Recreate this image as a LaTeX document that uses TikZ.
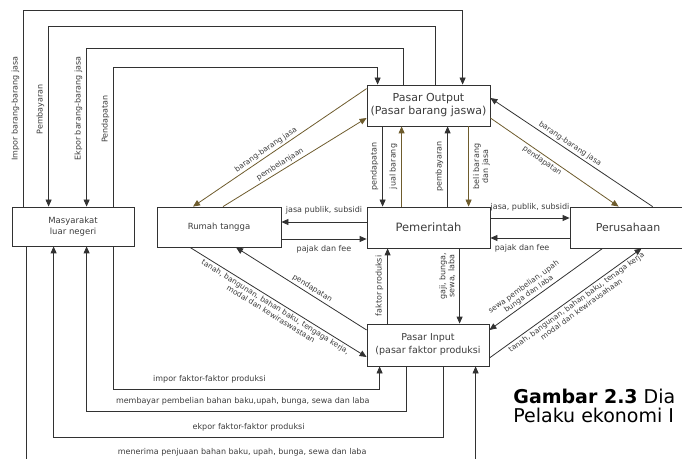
\documentclass[tikz,border=0pt]{standalone}
\usepackage{fontspec}
\setmainfont{DejaVu Sans}
\usetikzlibrary{arrows.meta}
\definecolor{linegray}{RGB}{50,50,50}
\definecolor{textgray}{RGB}{60,60,60}
\definecolor{olivebrown}{RGB}{110,92,45}
\begin{document}
\begin{tikzpicture}[x=1pt, y=1pt, line width=0.8pt, color=linegray,
            box/.style = {draw, inner sep=0pt, align=center, text=textgray},
            lbl/.style = {font=\fontsize{8}{9}\selectfont, text=textgray,
                inner sep=2pt, align=center},
            dlbl/.style = {lbl, font=\fontsize{7.5}{8.5}\selectfont, sloped},
            vlbl/.style = {lbl, rotate=90, inner sep=4pt},
            arr/.style = {-{Triangle[length=7pt,width=6pt]}},
            ]

        \useasboundingbox (0,0) rectangle (682,458);

        % Pelaku ekonomi
        \node[box, minimum width=122pt, minimum height=39pt,
            font=\fontsize{8.5}{11}\selectfont] (Mas) at (73,231.5) {Masyarakat\\luar negeri};
        \node[box, minimum width=124pt, minimum height=40pt,
            font=\fontsize{8.5}{11}\selectfont] (RT) at (219,231) {Rumah tangga};
        \node[box, minimum width=123pt, minimum height=41pt,
            font=\fontsize{11.5}{13}\selectfont] (Pem) at (428.5,230.5) {Pemerintah};
        \node[box, minimum width=116pt, minimum height=41pt,
            font=\fontsize{11}{13}\selectfont] (Per) at (628,230.5) {Perusahaan};

        % Pasar
        \node[box, minimum width=123pt, minimum height=41pt,
            font=\fontsize{11}{13}\selectfont] (PO) at (428.5,352.5) {Pasar Output\\(Pasar barang jaswa)};
        \node[box, minimum width=122pt, minimum height=42pt,
            font=\fontsize{9.5}{13}\selectfont] (PI) at (428,113) {Pasar Input\\(pasar faktor produksi};

        % Luar negeri - Pasar Output
        \draw[arr] ([xshift=12pt]Mas.north west) -- node[vlbl, anchor=south, pos=0.5] {Impor barang-barang jasa}
            ++(0,196) -| ([xshift=96pt]PO.north west);
        \draw[arr] ([xshift=69pt]PO.north west) -- ++(0,58)
            -| node[vlbl, anchor=south, pos=0.73] {Pembayaran} ([xshift=37pt]Mas.north west);
        \draw[arr] ([xshift=37pt]PO.north west) -- ++(0,36)
            -| node[vlbl, anchor=south, pos=0.69] {Ekpor barang-barang jasa} ([xshift=75pt]Mas.north west);
        \draw[arr] ([xshift=102pt]Mas.north west) -- node[vlbl, anchor=south, pos=0.63] {Pendapatan}
            ++(0,139) -| ([xshift=11pt]PO.north west);

        % Rumah tangga - Pasar Output
        \draw[arr, olivebrown] ([yshift=-4pt]PO.north west) -- node[dlbl, above, pos=0.56] {barang-barang jasa} ([xshift=-26pt]RT.north);
        \draw[arr, olivebrown] ([xshift=4pt]RT.north) -- node[dlbl, above, pos=0.42] {pembelanjaan} ([yshift=-12.5pt]PO.west);

        % Pasar Output - Pemerintah
        \draw[arr] ([xshift=16pt]PO.south west) -- node[vlbl, anchor=south] {pendapatan} ([xshift=16pt]Pem.north west);
        \draw[arr, olivebrown] ([xshift=35pt]Pem.north west) -- node[vlbl, anchor=south] {jual barang} ([xshift=35pt]PO.south west);
        \draw[arr] ([xshift=81pt]Pem.north west) -- node[vlbl, anchor=south] {pembayaran} ([xshift=81pt]PO.south west);
        \draw[arr, olivebrown] ([xshift=102pt]PO.south west) -- node[vlbl, anchor=north] {beli barang\\dan jasa} ([xshift=102pt]Pem.north west);

        % Pasar Output - Perusahaan
        \draw[arr] ([xshift=83pt]Per.north west) -- node[dlbl, above, pos=0.53] {barang-barang jasa} ([yshift=7.5pt]PO.east);
        \draw[arr, olivebrown] ([yshift=-12.5pt]PO.east) -- node[dlbl, below, pos=0.43] {pendapatan} ([xshift=49pt]Per.north west);

        % Pemerintah - Perusahaan
        \draw[arr] ([yshift=9.5pt]Pem.east) -- node[lbl, above=4pt] {jasa, publik, subsidi} ([yshift=9.5pt]Per.west);
        \draw[arr] ([yshift=-10.5pt]Per.west) -- node[lbl, below=4pt, pos=0.6] {pajak dan fee} ([yshift=-10.5pt]Pem.east);

        % Rumah tangga - Pemerintah
        \draw[arr] ([yshift=5.5pt]Pem.west) -- node[lbl, above=5pt] {jasa publik, subsidi} ([yshift=5pt]RT.east);
        \draw[arr] ([yshift=-12pt]RT.east) -- node[lbl, below=4pt] {pajak dan fee} ([yshift=-11.5pt]Pem.west);

        % Rumah tangga - Pasar Input
        \draw[arr] ([yshift=15pt]PI.west) -- node[dlbl, above, pos=0.44] {pendapatan} ([xshift=17pt]RT.south);
        \draw[arr] ([xshift=-29pt]RT.south) -- node[dlbl, below, pos=0.5]
            {tanah, bangunan, bahan baku, tengaga kerja,\\modal dan kewiraswastaan} ([yshift=-12pt]PI.west);

        % Pemerintah - Pasar Input
        \draw[arr] ([xshift=21pt]PI.north west) -- node[vlbl, anchor=south] {faktor produksi} ([xshift=21pt]Pem.south west);
        \draw[arr] ([xshift=93pt]Pem.south west) -- node[vlbl, anchor=south, pos=0.37] {gaji, bunga,\\sewa, laba} ([xshift=93pt]PI.north west);

        % Perusahaan - Pasar Input
        \draw[arr] ([xshift=33pt]Per.south west) -- node[dlbl, above, pos=0.62]
            {sewa pembelian, upah\\bunga dan laba} ([yshift=15pt]PI.east);
        \draw[arr] ([yshift=-13pt]PI.east) -- node[dlbl, below, pos=0.55]
            {tanah, bangunan, bahan baku, tenaga kerja\\modal dan kewirausahaan} ([xshift=72pt]Per.south west);

        % Luar negeri - Pasar Input
        \draw[arr] ([xshift=102pt]Mas.south west) -- ++(0,-143)
            -| node[lbl, above=4pt, pos=0.18] {impor faktor-faktor produksi} ([xshift=13pt]PI.south west);
        \draw[arr] ([xshift=40pt]PI.south west) -- ++(0,-45)
            -| node[lbl, above=4pt, pos=0.256] {membayar pembelian bahan baku,upah, bunga, sewa dan laba} ([xshift=75pt]Mas.south west);
        \draw[arr] ([xshift=77pt]PI.south west) -- ++(0,-71)
            -| node[lbl, above=4pt, pos=0.25] {ekpor faktor-faktor produksi} ([xshift=42pt]Mas.south west);
        \draw[arr] ([xshift=15pt]Mas.south west) -- ++(0,-216)
            -| node[lbl, above=4pt, pos=0.24] {menerima penjuaan bahan baku, upah, bunga, sewa dan laba} ([xshift=109pt]PI.south west);

        % Keterangan gambar
        \node[anchor=base west, inner sep=0pt, text=black,
            font=\fontsize{19}{21}\selectfont] (cap1) at (513,55) {\textbf{Gambar 2.3} Dia};
        \node[anchor=base west, inner sep=0pt, text=black,
            font=\fontsize{19}{21}\selectfont] (cap2) at (513,36) {Pelaku ekonomi I};

        \end{tikzpicture}
\end{document}
